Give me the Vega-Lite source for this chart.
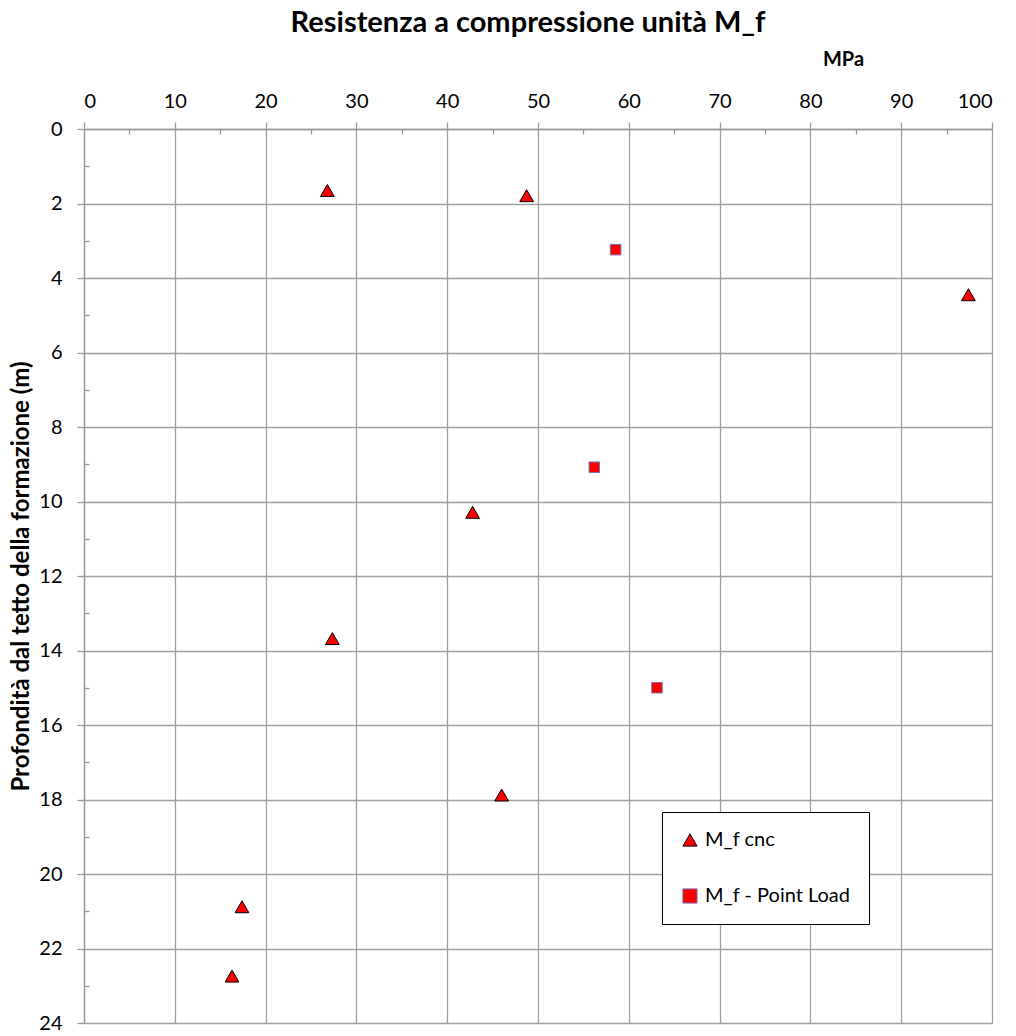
{
  "$schema": "https://vega.github.io/schema/vega-lite/v6.json",
  "width": 908,
  "height": 894,
  "autosize": {"type": "none"},
  "padding": {"left": 84, "top": 129, "right": 24, "bottom": 13},
  "background": "white",
  "config": {
    "font": "Lato, sans-serif",
    "view": {"stroke": null}
  },
  "title": {
    "text": "Resistenza a compressione unità M_f",
    "fontSize": 29,
    "fontWeight": "bold",
    "color": "black",
    "anchor": "middle",
    "frame": "group",
    "dx": -10,
    "offset": 11
  },
  "data": {
    "values": [
      {"serie": "M_f cnc", "mpa": 26.8, "prof": 1.65},
      {"serie": "M_f cnc", "mpa": 48.75, "prof": 1.79},
      {"serie": "M_f cnc", "mpa": 97.4, "prof": 4.45},
      {"serie": "M_f cnc", "mpa": 42.8, "prof": 10.29},
      {"serie": "M_f cnc", "mpa": 27.35, "prof": 13.68},
      {"serie": "M_f cnc", "mpa": 46.0, "prof": 17.88},
      {"serie": "M_f cnc", "mpa": 17.4, "prof": 20.88},
      {"serie": "M_f cnc", "mpa": 16.3, "prof": 22.74},
      {"serie": "M_f - Point Load", "mpa": 58.55, "prof": 3.24},
      {"serie": "M_f - Point Load", "mpa": 56.2, "prof": 9.08},
      {"serie": "M_f - Point Load", "mpa": 63.1, "prof": 15.0}
    ]
  },
  "encoding": {
    "x": {
      "field": "mpa",
      "type": "quantitative",
      "scale": {"domain": [0, 100], "nice": false, "zero": false},
      "axis": {
        "orient": "top",
        "values": [0,5,10,15,20,25,30,35,40,45,50,55,60,65,70,75,80,85,90,95,100],
        "format": "d",
        "labelExpr": "datum.value % 10 === 0 ? datum.label : ''",
        "labelOverlap": false,
        "labelFontSize": 20,
        "labelColor": "black",
        "labelPadding": 11,
        "tickSize": {"condition": {"test": "datum.value % 10 === 0", "value": 7}, "value": -5},
        "tickColor": "#999999",
        "tickWidth": 1.3,
        "gridOpacity": {"condition": {"test": "datum.value % 10 === 0", "value": 1}, "value": 0},
        "grid": true,
        "gridColor": "#a0a0a0",
        "gridWidth": 1.3,
        "domainColor": "#999999",
        "domainWidth": 1.3,
        "title": "MPa",
        "titleFontSize": 20,
        "titleFontWeight": "bold",
        "titleColor": "black",
        "titleX": 759,
        "titleY": -60,
        "titleAlign": "center"
      }
    },
    "y": {
      "field": "prof",
      "type": "quantitative",
      "scale": {"domain": [0, 24], "reverse": true, "nice": false, "zero": false},
      "axis": {
        "orient": "left",
        "values": [0,0.5,1,1.5,2,2.5,3,3.5,4,4.5,5,5.5,6,6.5,7,7.5,8,8.5,9,9.5,10,10.5,11,11.5,12,12.5,13,13.5,14,14.5,15,15.5,16,16.5,17,17.5,18,18.5,19,19.5,20,20.5,21,21.5,22,22.5,23,23.5,24],
        "format": "d",
        "labelExpr": "datum.value % 2 === 0 ? datum.label : ''",
        "labelOverlap": false,
        "labelFontSize": 20,
        "labelColor": "black",
        "labelPadding": 15,
        "tickSize": {"condition": {"test": "datum.value % 2 === 0", "value": 7}, "value": -5},
        "tickColor": "#999999",
        "tickWidth": 1.3,
        "gridOpacity": {"condition": {"test": "datum.value % 2 === 0", "value": 1}, "value": 0},
        "grid": true,
        "gridColor": "#a0a0a0",
        "gridWidth": 1.3,
        "domainColor": "#999999",
        "domainWidth": 1.3,
        "title": "Profondità dal tetto della formazione (m)",
        "titleFontSize": 24,
        "titleFontWeight": "bold",
        "titleColor": "black",
        "titlePadding": 5
      }
    },
    "shape": {
      "field": "serie",
      "type": "nominal",
      "scale": {"domain": ["M_f cnc", "M_f - Point Load"], "range": ["triangle-up", "square"]},
      "legend": {
        "title": null,
        "orient": "none",
        "legendX": 578,
        "legendY": 683,
        "strokeColor": "black",
        "fillColor": "white",
        "padding": 18,
        "rowPadding": 36,
        "labelFontSize": 20,
        "labelColor": "black",
        "labelOffset": 5,
        "symbolSize": 200,
        "symbolStrokeWidth": 1,
        "labelLimit": 300
      }
    },
    "fill": {
      "field": "serie",
      "type": "nominal",
      "scale": {"domain": ["M_f cnc", "M_f - Point Load"], "range": ["#ff0000", "#ff0000"]}
    },
    "stroke": {
      "field": "serie",
      "type": "nominal",
      "scale": {"domain": ["M_f cnc", "M_f - Point Load"], "range": ["#000000", "#7d6cb4"]}
    }
  },
  "layer": [
    {
      "transform": [{"filter": "datum.serie === 'M_f cnc'"}],
      "mark": {"type": "point", "filled": true, "opacity": 1, "strokeWidth": 1, "strokeOpacity": 1, "size": 190}
    },
    {
      "transform": [{"filter": "datum.serie === 'M_f - Point Load'"}],
      "mark": {"type": "point", "filled": true, "opacity": 1, "strokeWidth": 1, "strokeOpacity": 1, "size": 110}
    }
  ]
}
